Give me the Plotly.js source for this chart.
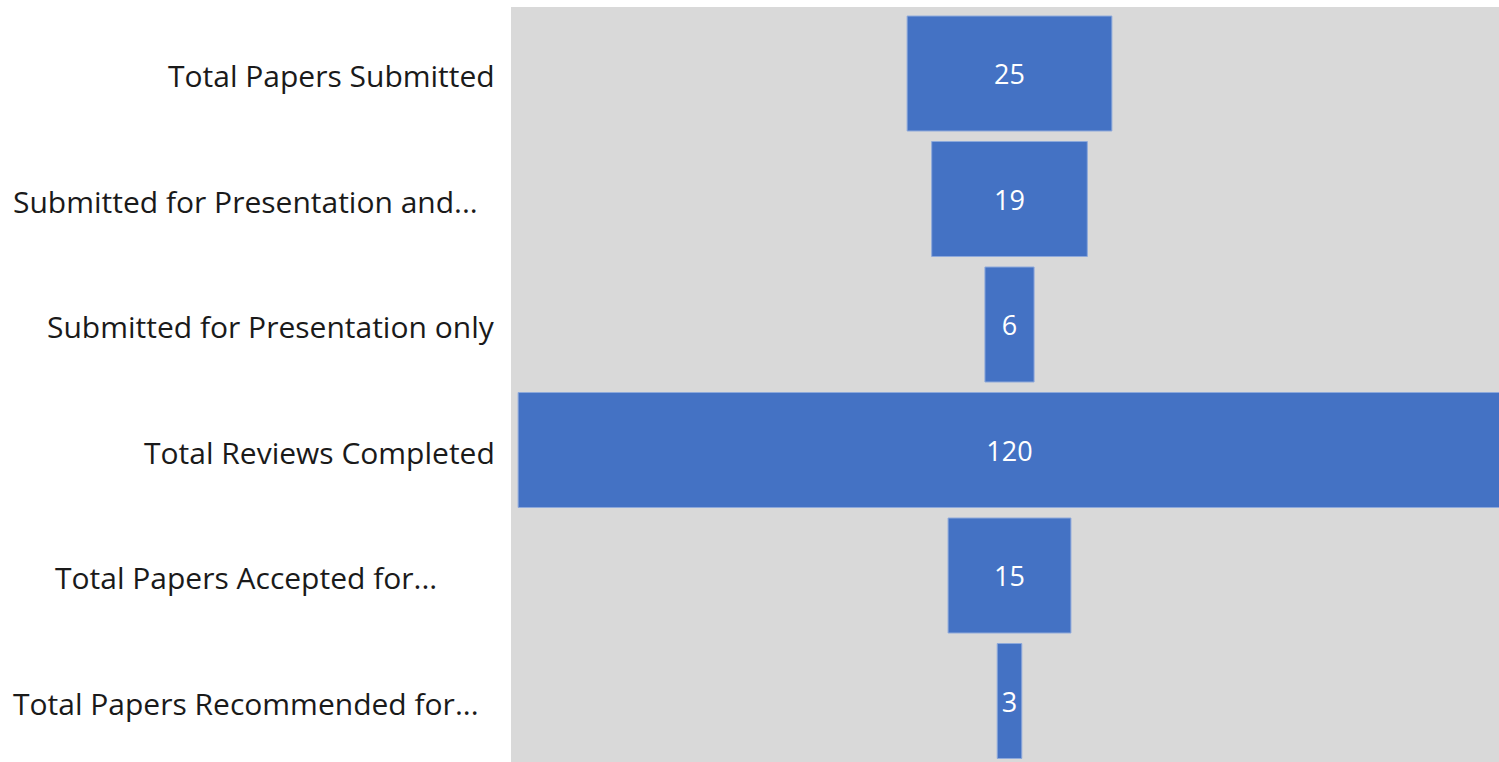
<!DOCTYPE html>
<html>
<head>
<meta charset="utf-8">
<script src="https://cdn.plot.ly/plotly-3.0.1.min.js"></script>
<style>html,body{margin:0;padding:0;background:#fff;overflow:hidden}</style>
</head>
<body>
<div id="chart" style="width:1499px;height:762px"></div>
<script>
const stages = [
  "Total Papers Submitted",
  "Submitted for Presentation and...",
  "Submitted for Presentation only",
  "Total Reviews Completed",
  "Total Papers Accepted for...",
  "Total Papers Recommended for..."
];
const values = [25, 19, 6, 120, 15, 3];
const truncated = [false, true, false, false, true, true];

const W = 1499, L = 511;
const plotW = W - L;
const fontFam = "'Open Sans', 'Noto Sans', sans-serif";

const annotations = stages.map((s, i) => ({
  xref: 'paper', yref: 'y',
  x: truncated[i] ? (245.5 - L) / plotW : (497 - L) / plotW,
  y: s, text: s,
  xanchor: truncated[i] ? 'center' : 'right', yanchor: 'middle',
  yshift: -2, showarrow: false,
  font: {family: fontFam, size: 30, color: '#1a1a1a'}
}));

const trace = {
  type: 'funnel',
  y: stages,
  x: values,
  text: values.map(String),
  textinfo: 'text',
  textposition: 'inside',
  insidetextanchor: 'middle',
  textfont: {family: fontFam, size: 27, color: '#ffffff'},
  constraintext: 'none',
  marker: {color: '#4472C4', line: {color: '#8EA9DB', width: 1}},
  connector: {visible: false},
  hoverinfo: 'x+y'
};

const layout = {
  width: 1499, height: 762,
  margin: {l: L, r: 0, t: 7, b: 0, pad: 0},
  paper_bgcolor: '#ffffff',
  plot_bgcolor: '#D9D9D9',
  showlegend: false,
  funnelgap: 0.084,
  xaxis: {range: [-60.87, 59.77], visible: false, showgrid: false, zeroline: false, fixedrange: true},
  yaxis: {range: [5.486, -0.53], showticklabels: false, showgrid: false, zeroline: false, ticks: '', fixedrange: true},
  annotations: annotations
};

Plotly.newPlot('chart', [trace], layout, {displayModeBar: false, staticPlot: true});
</script>
</body>
</html>
